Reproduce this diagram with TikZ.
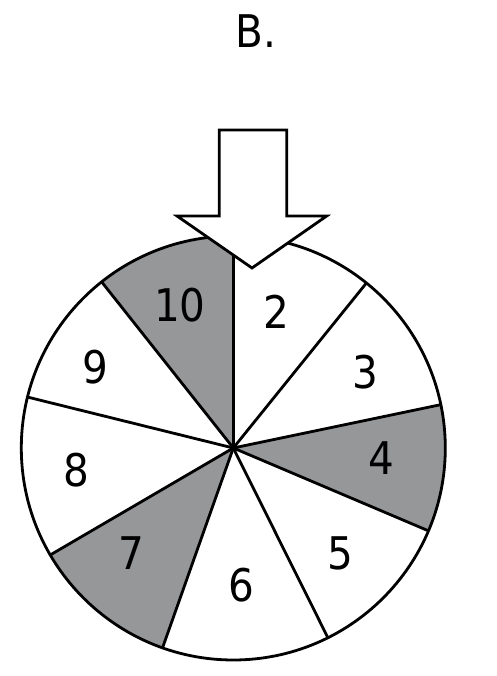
\documentclass[tikz,border=0pt]{standalone}
\usepackage{fontspec}
\setmainfont{DejaVu Sans Condensed}
\usetikzlibrary{calc}
\definecolor{wheelgray}{RGB}{150,151,153}
\tikzset{
  wheelline/.style={line width=2.8pt, black},
  wedgefill/.style={fill=wheelgray},
  numlabel/.style={font=\fontsize{45}{54}\selectfont, inner sep=0pt},
  arrowshape/.style={line width=2.8pt, fill=white, line join=miter}
}
\begin{document}
\begin{tikzpicture}[x=1pt,y=1pt]
\useasboundingbox (0,0) rectangle (496,676);
\coordinate (O) at (233.3,228);
% gray wedges
\fill[wedgefill] (O) -- ++(90:212pt) arc[start angle=90,end angle=128.4,radius=212pt] -- cycle;
\fill[wedgefill] (O) -- ++(-23:212pt) arc[start angle=-23,end angle=11.8,radius=212pt] -- cycle;
\fill[wedgefill] (O) -- ++(-149.7:212pt) arc[start angle=-149.7,end angle=-109.5,radius=212pt] -- cycle;
% boundary ends
\foreach \a/\n in {90/b1,51.1/b2,11.8/b3,-23/b4,-63.5/b5,-109.5/b6,-149.7/b7,166.1/b8,128.4/b9}{
  \coordinate (\n) at ($(O)+(\a:212pt)$);
}
\foreach \n in {b1,b2,b3,b4,b5,b6,b7,b8,b9}{
  \draw[wheelline] (O) -- (\n);
}
\draw[wheelline] (O) circle[radius=212pt];
% arrow
\draw[arrowshape] (219.3,546) -- (286.7,546) -- (286.7,460) -- (326.7,460) -- (252,408) -- (177,460) -- (219.3,460) -- cycle;
% labels
\node[numlabel] (t) at (256,645) {B.};
\node[numlabel] (n10) at (180,371) {10};
\node[numlabel] (n2) at (276.7,364.3) {2};
\node[numlabel] (n3) at (365,304.3) {3};
\node[numlabel] (n4) at (381.7,217.7) {4};
\node[numlabel] (n5) at (340,123) {5};
\node[numlabel] (n6) at (241,91) {6};
\node[numlabel] (n7) at (131.7,123) {7};
\node[numlabel] (n8) at (76.7,206) {8};
\node[numlabel] (n9) at (95,309.3) {9};
\end{tikzpicture}
\end{document}
